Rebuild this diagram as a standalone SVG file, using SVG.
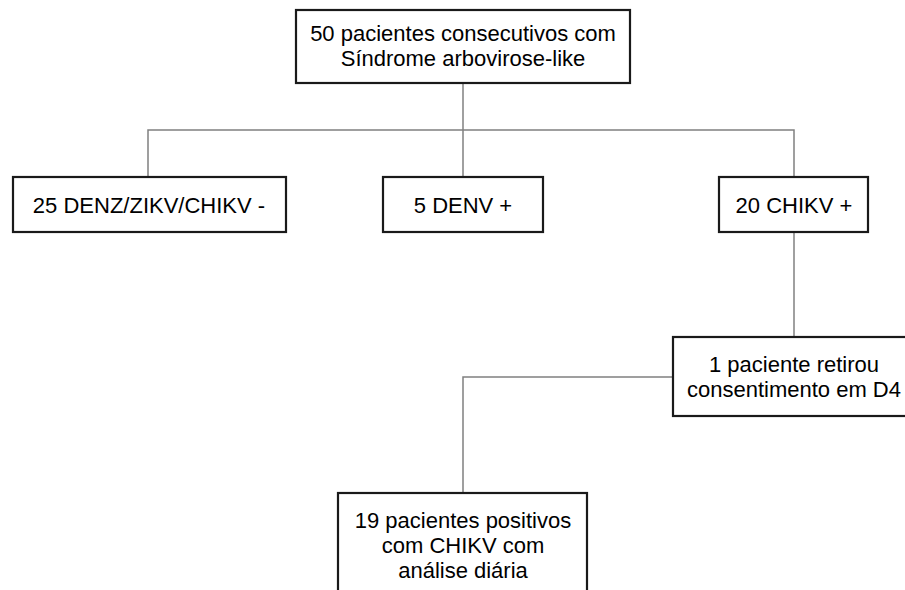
<svg xmlns="http://www.w3.org/2000/svg" width="905" height="590" viewBox="0 0 905 590">
<style>
.box{fill:#fff;stroke:#1a1a1a;stroke-width:2.2}
.lbl{font-family:"Liberation Sans",Arial,sans-serif;font-size:22px;fill:#000;text-anchor:middle}
.conn{fill:none;stroke:#808080;stroke-width:1.5}
</style>
<rect width="905" height="590" fill="#fff"/>
<g id="connectors">
<path class="conn" d="M463 83V177"/>
<path class="conn" d="M148 177V130H794V177"/>
<path class="conn" d="M794 232V337"/>
<path class="conn" d="M673 377H463V493"/>
</g>
<g id="n1">
<rect class="box" x="296" y="10" width="334" height="73"/>
<text class="lbl" x="463" y="41">50 pacientes consecutivos com</text>
<text class="lbl" x="463" y="66">Síndrome arbovirose-like</text>
</g>
<g id="n2">
<rect class="box" x="13" y="177" width="273" height="55"/>
<text class="lbl" x="149" y="213">25 DENZ/ZIKV/CHIKV -</text>
</g>
<g id="n3">
<rect class="box" x="383" y="177" width="160" height="55"/>
<text class="lbl" x="463" y="213">5 DENV +</text>
</g>
<g id="n4">
<rect class="box" x="719" y="177" width="149" height="55"/>
<text class="lbl" x="794" y="213">20 CHIKV +</text>
</g>
<g id="n5">
<rect class="box" x="673" y="337" width="245" height="79"/>
<text class="lbl" x="794" y="372">1 paciente retirou</text>
<text class="lbl" x="794" y="397">consentimento em D4</text>
</g>
<g id="n6">
<rect class="box" x="338" y="493" width="249" height="110"/>
<text class="lbl" x="463" y="528">19 pacientes positivos</text>
<text class="lbl" x="463" y="553">com CHIKV com</text>
<text class="lbl" x="463" y="578">análise diária</text>
</g>
</svg>
